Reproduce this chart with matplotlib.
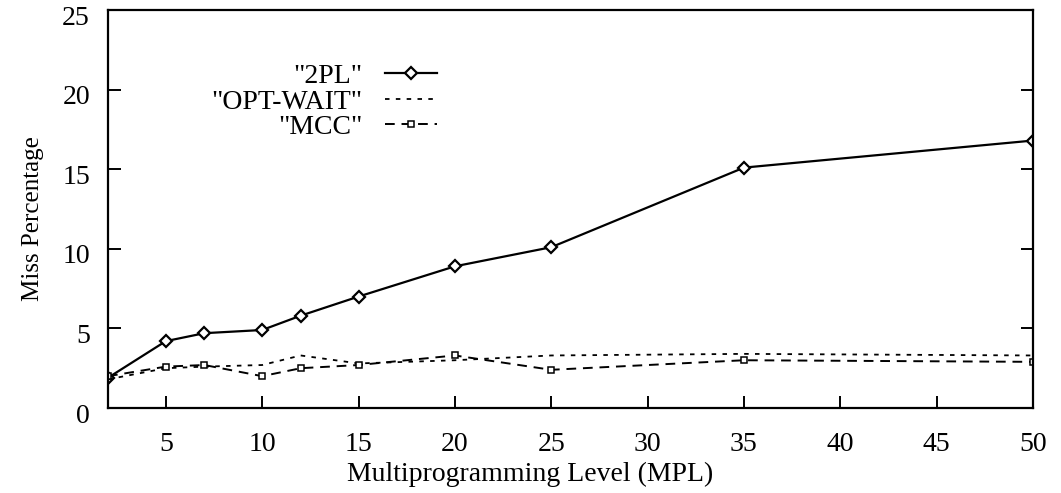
import matplotlib.pyplot as plt
from matplotlib.transforms import ScaledTranslation

plt.rcParams['font.family'] = ['Liberation Serif', 'DejaVu Serif']

mpl = [2, 5, 7, 10, 12, 15, 20, 25, 35, 50]
twopl = [1.9, 4.2, 4.7, 4.9, 5.8, 7.0, 8.9, 10.1, 15.1, 16.8]
optwait = [1.8, 2.5, 2.6, 2.7, 3.3, 2.8, 3.0, 3.3, 3.4, 3.3]
mccv = [2.0, 2.6, 2.7, 2.0, 2.5, 2.7, 3.3, 2.4, 3.0, 2.9]

xticks = [5, 10, 15, 20, 25, 30, 35, 40, 45, 50]
yticks = [0, 5, 10, 15, 20, 25]

fig = plt.figure(figsize=(10.61, 4.93), dpi=100)
ax = fig.add_axes([0.1018, 0.1724, 0.8718, 0.8073])

ax.plot(mpl, twopl, color='black', lw=1.6, marker='D', markersize=6.5,
        markerfacecolor='white', markeredgewidth=1.6, label='"2PL"')
ax.plot(mpl, optwait, color='black', lw=1.3, linestyle=(0, (2.5, 3.5)),
        label='"OPT-WAIT"')
ax.plot(mpl, mccv, color='black', lw=1.4, linestyle=(0, (5, 3.5)), marker='s',
        markersize=5, markerfacecolor='white', markeredgewidth=1.1, label='"MCC"')

ax.set_xlim(2, 50)
ax.set_ylim(0, 25)
ax.set_xticks(xticks)
ax.set_yticks(yticks)
ax.tick_params(direction='in', length=9, width=1.4, labelsize=20, right=True)
ax.tick_params(axis='x', pad=17)
ax.tick_params(axis='y', pad=13)
for s in ax.spines.values():
    s.set_linewidth(1.6)

# gnuplot-style: y tick labels sit a little below their ticks
shift = ScaledTranslation(0, -5 / 100, fig.dpi_scale_trans)
for lab in ax.get_yticklabels():
    lab.set_transform(lab.get_transform() + shift)

ax.set_xlabel('Multiprogramming Level (MPL)', fontsize=20)
ax.xaxis.set_label_coords(0.456, -0.135)
ax.set_ylabel('Miss Percentage', fontsize=18)
ax.yaxis.set_label_coords(-0.069, 0.477)

ax.legend(loc='upper right', bbox_to_anchor=(0.371, 0.9), frameon=False,
          markerfirst=False, fontsize=20, handlelength=1.9,
          labelspacing=0.0, borderpad=0, handletextpad=0.8)

fig.savefig('out.png', dpi=100)
